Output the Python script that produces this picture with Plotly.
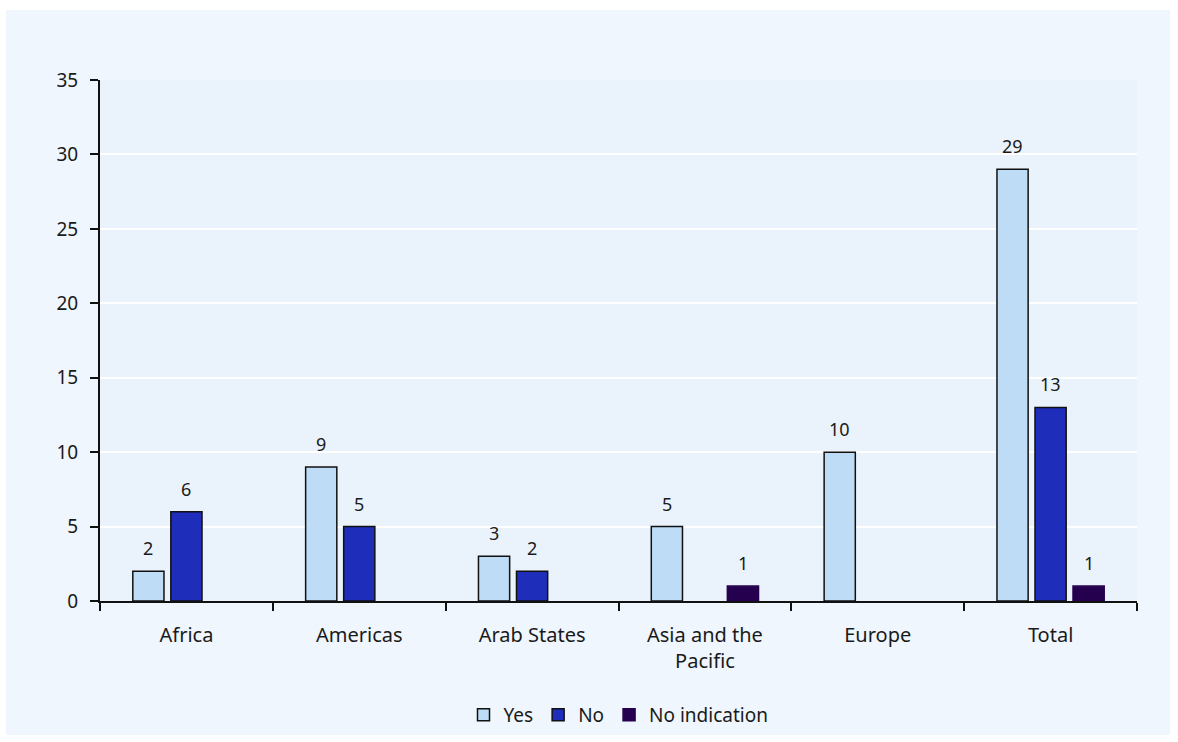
import plotly.graph_objects as go

regions = ["Africa", "Americas", "Arab States", "Asia and the<br>Pacific", "Europe", "Total"]
yes_vals = [2, 9, 3, 5, 10, 29]
no_vals = [6, 5, 2, 0, 0, 13]
no_ind_vals = [0, 0, 0, 1, 0, 1]
y_ticks = [0, 5, 10, 15, 20, 25, 30, 35]

series = [
    ("Yes", yes_vals, "#BFDCF7", "#111111"),
    ("No", no_vals, "#1F2DBB", "#111111"),
    ("No indication", no_ind_vals, "#24004F", "#24004F"),
]

FONT = "Noto Sans"
TXT = "#1a1a1a"

fig = go.Figure()
for name, vals, fill, edge in series:
    # empty slots (zero counts) are left blank
    shown = [v if v else None for v in vals]
    fig.add_trace(go.Bar(
        name=name, x=regions, y=shown,
        marker=dict(color=fill, line=dict(color=edge, width=1.5)),
        hoverinfo="skip",
    ))

# value labels above each non-zero bar
slot_px = 38
offsets = [-slot_px, 0, slot_px]
for (name, vals, _, _), dx in zip(series, offsets):
    for cat, v in zip(regions, vals):
        if v:
            fig.add_annotation(
                x=cat, y=v, text=str(v), showarrow=False,
                xshift=dx, yshift=9, yanchor="bottom",
                font=dict(family=FONT, size=18, color=TXT),
            )

W, H = 1178, 742
ml, mr, mt, mb = 100, 41, 80, 141
pw, ph = W - ml - mr, H - mt - mb

# light panel behind the whole chart
fig.add_shape(
    type="rect", xref="paper", yref="paper", layer="below",
    x0=(6 - ml) / pw, x1=(1170 - ml) / pw,
    y0=(H - mb - 735) / ph, y1=(H - mb - 10) / ph,
    fillcolor="#EFF6FD", line=dict(width=0),
)
# plotting area tint
fig.add_shape(
    type="rect", xref="paper", yref="paper", layer="below",
    x0=0, x1=1, y0=0, y1=1,
    fillcolor="#EAF3FC", line=dict(width=0),
)

fig.update_layout(
    width=W, height=H,
    margin=dict(l=ml, r=mr, t=mt, b=mb, pad=0, autoexpand=False),
    paper_bgcolor="white",
    plot_bgcolor="rgba(0,0,0,0)",
    barmode="group",
    bargap=0.34,
    bargroupgap=0.18,
    font=dict(family=FONT, size=19, color=TXT),
    showlegend=True,
    legend=dict(
        orientation="h", x=0.5, xanchor="center",
        y=(H - mb - 715) / ph, yanchor="middle",
        font=dict(family=FONT, size=19, color=TXT),
        itemwidth=30, tracegroupgap=0,
        bgcolor="rgba(0,0,0,0)",
    ),
    xaxis=dict(
        showline=True, linecolor="#111111", linewidth=2,
        ticks="outside", tickson="boundaries", ticklen=8,
        tickcolor="#111111", tickwidth=2,
        showgrid=False, zeroline=False,
        tickfont=dict(family=FONT, size=20, color=TXT),
        ticklabelstandoff=15,
        automargin=False,
        fixedrange=True,
    ),
    yaxis=dict(
        range=[0, 35], tickvals=y_ticks,
        showline=True, linecolor="#111111", linewidth=2,
        ticks="outside", ticklen=8, tickcolor="#111111", tickwidth=2,
        showgrid=True, gridcolor="white", gridwidth=2,
        zeroline=False,
        tickfont=dict(family=FONT, size=19, color=TXT),
        ticklabelstandoff=8,
        automargin=False,
        fixedrange=True,
    ),
)

fig.write_html("out.html", config={"displayModeBar": False})
